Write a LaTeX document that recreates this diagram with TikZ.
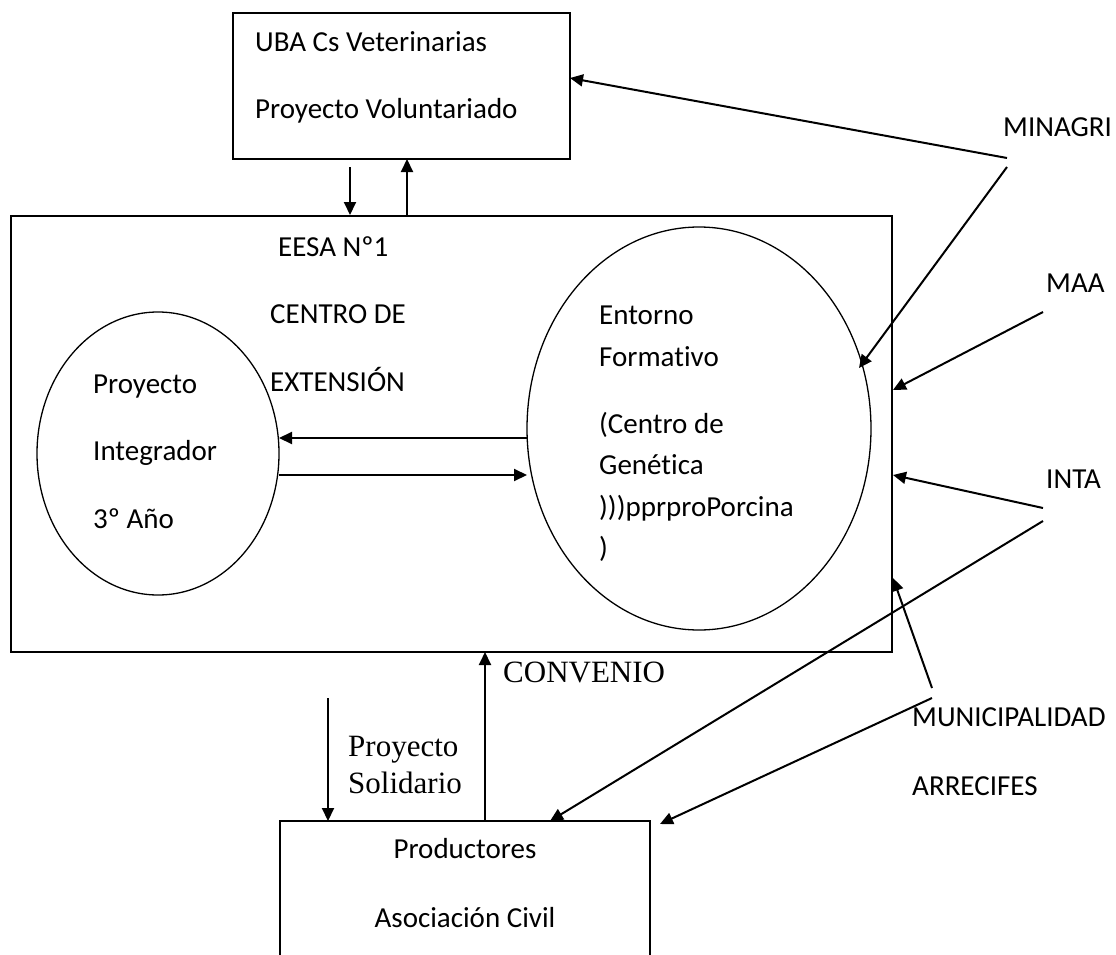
\documentclass[tikz,border=0pt]{standalone}
\usepackage{fontspec}
\setmainfont{Carlito}[Ligatures=NoCommon]
\newfontfamily\timesfont{Liberation Serif}
\usetikzlibrary{shapes.geometric,arrows.meta}
\begin{document}
\begin{tikzpicture}[x=1pt,y=-1pt,
  box/.style={draw,line width=1.6pt,inner sep=0pt},
  ell/.style={ellipse,draw,line width=1.3pt,inner sep=0pt},
  arr/.style={line width=2pt,-{Triangle[length=13pt,width=12pt]}},
  txt/.style={anchor=base west,inner sep=0pt,font=\fontsize{29}{35}\selectfont},
  ctxt/.style={txt,anchor=base},
  stxt/.style={anchor=base west,inner sep=0pt,font=\timesfont\fontsize{31}{37}\selectfont}]
\useasboundingbox (0,0) rectangle (1116,955);
\fill[white] (0,0) rectangle (1116,955);

% boxes and ellipses
\node[box,minimum width=337pt,minimum height=146pt] (uba) at (401.5,86) {};
\node[box,minimum width=881pt,minimum height=436pt] (eesa) at (451.5,434) {};
\node[ell,minimum width=242pt,minimum height=283pt] (ellL) at (158,453.5) {};
\node[ell,minimum width=344pt,minimum height=403pt] (ellR) at (699,428.5) {};
\node[inner sep=0pt,minimum width=370pt,minimum height=134pt] (prod) at (465,888) {};
\draw[line width=1.6pt] (prod.south west) -- (prod.north west) -- (prod.north east) -- (prod.south east);

% texts
\node[txt] (t1) at (255,52) {UBA Cs Veterinarias};
\node[txt] (t2) at (255,119) {Proyecto Voluntariado};
\node[txt] (t3) at (278,256) {EESA Nº1};
\node[txt] (t4) at (270,323) {CENTRO DE};
\node[txt] (t5) at (270,391) {EXTENSIÓN};
\node[txt] (t6) at (93,393) {Proyecto};
\node[txt] (t7) at (93,460) {Integrador};
\node[txt] (t8) at (93,528) {3º Año};
\node[txt] (t9) at (599,324) {Entorno};
\node[txt] (t10) at (599,366) {Formativo};
\node[txt] (t11) at (599,433) {(Centro de};
\node[txt] (t12) at (599,474) {Genética};
\node[txt] (t13) at (599,516) {)))pprproPorcina};
\node[txt] (t14) at (599,557) {)};
\node[txt] (minagri) at (1003,136) {MINAGRI};
\node[txt] (maa) at (1046,292) {MAA};
\node[txt] (inta) at (1046,488) {INTA};
\node[txt] (muni) at (912,726) {MUNICIPALIDAD};
\node[txt] (arre) at (912,795) {ARRECIFES};
\node[stxt] (conv) at (503,682) {CONVENIO};
\node[stxt] (ps1) at (348,756) {Proyecto};
\node[stxt] (ps2) at (348,793) {Solidario};
\node[ctxt] (p1) at (465,858) {Productores};
\node[ctxt] (p2) at (465,927) {Asociación Civil};

% connector end points
\coordinate (a1s) at (350,167);  \coordinate (a1e) at (350,215);
\coordinate (a2s) at (407,216);  \coordinate (a2e) at (407,159);
\coordinate (a3s) at (527,438);  \coordinate (a3e) at (279,438);
\coordinate (a4s) at (279,475);  \coordinate (a4e) at (527,475);
\coordinate (m1s) at (1007,158); \coordinate (m1e) at (570,78);
\coordinate (m2s) at (1007,167); \coordinate (m2e) at (859,368);
\coordinate (maas) at (1043,312); \coordinate (maae) at (893,390);
\coordinate (i1s) at (1043,508); \coordinate (i1e) at (893,475);
\coordinate (i2s) at (1043,521); \coordinate (i2e) at (550,821);
\coordinate (u1s) at (932,688);  \coordinate (u1e) at (893,578);
\coordinate (u2s) at (932,698);  \coordinate (u2e) at (660,824);
\coordinate (cs) at (485,821);   \coordinate (ce) at (485,652);
\coordinate (ss) at (328,698);   \coordinate (se) at (328,821);

% connectors
\draw[arr] (a1s) -- (a1e);
\draw[arr] (a2s) -- (a2e);
\draw[arr] (a3s) -- (a3e);
\draw[arr] (a4s) -- (a4e);
\draw[arr] (m1s) -- (m1e);
\draw[arr] (m2s) -- (m2e);
\draw[arr] (maas) -- (maae);
\draw[arr] (i1s) -- (i1e);
\draw[arr] (i2s) -- (i2e);
\draw[arr] (u1s) -- (u1e);
\draw[arr] (u2s) -- (u2e);
\draw[arr] (cs) -- (ce);
\draw[arr] (ss) -- (se);
\end{tikzpicture}
\end{document}
